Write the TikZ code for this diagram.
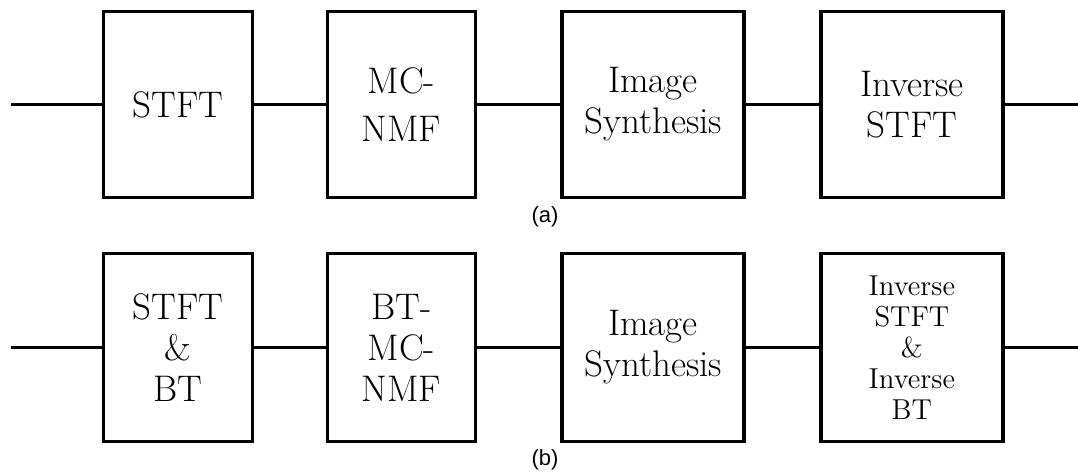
\documentclass[tikz,border=0pt]{standalone}
\usepackage{fontspec}
\newfontfamily\capfont{Liberation Sans}
\usetikzlibrary{positioning}

\begin{document}
\begin{tikzpicture}[x=0.5pt,y=-0.5pt,
blk/.style={draw,line width=1.7pt,minimum height=93pt,inner sep=0pt,align=center,font=\fontsize{18.5}{20.5}\selectfont},
wire/.style={line width=1.1pt},
sublabel/.style={font=\capfont\fontsize{11}{13}\selectfont}]
\useasboundingbox (0,0) rectangle (1078,476);

% (a) plain chain
\node[blk, minimum width=74.5pt] (stft) at (178,104.5) {STFT};
\node[blk, minimum width=74pt, right=35.7pt of stft, font=\fontsize{18.5}{24}\selectfont] (nmf) {MC-\\NMF};
\node[blk, minimum width=91pt, right=41.7pt of nmf] (synth) {Image\\Synthesis};
\node[blk, minimum width=91pt, right=36.7pt of synth] (istft) {Inverse\\STFT};
\coordinate (inA) at (11,104.5);
\coordinate (outA) at (1078,104.5);
\draw[wire] (inA) -- (stft);
\draw[wire] (stft) -- (nmf);
\draw[wire] (nmf) -- (synth);
\draw[wire] (synth) -- (istft);
\draw[wire] (istft) -- (outA);
\node[sublabel] (capa) at (545,217) {(a)};

% (b) with BT
\node[blk, minimum width=74.5pt, minimum height=94pt] (stftbt) at (178,347.5) {STFT\\\&\\BT};
\node[blk, minimum width=74pt, minimum height=94pt, right=35.7pt of stftbt] (btnmf) {BT-\\MC-\\NMF};
\node[blk, minimum width=91pt, minimum height=94pt, right=41.7pt of btnmf] (synthb) {Image\\Synthesis};
\node[blk, minimum width=91pt, minimum height=94pt, right=36.7pt of synthb, font=\fontsize{14.4}{15.5}\selectfont] (istftbt) {Inverse\\STFT\\\&\\Inverse\\BT};
\coordinate (inB) at (11,347.5);
\coordinate (outB) at (1078,347.5);
\draw[wire] (inB) -- (stftbt);
\draw[wire] (stftbt) -- (btnmf);
\draw[wire] (btnmf) -- (synthb);
\draw[wire] (synthb) -- (istftbt);
\draw[wire] (istftbt) -- (outB);
\node[sublabel] (capb) at (545,460) {(b)};
\end{tikzpicture}
\end{document}
